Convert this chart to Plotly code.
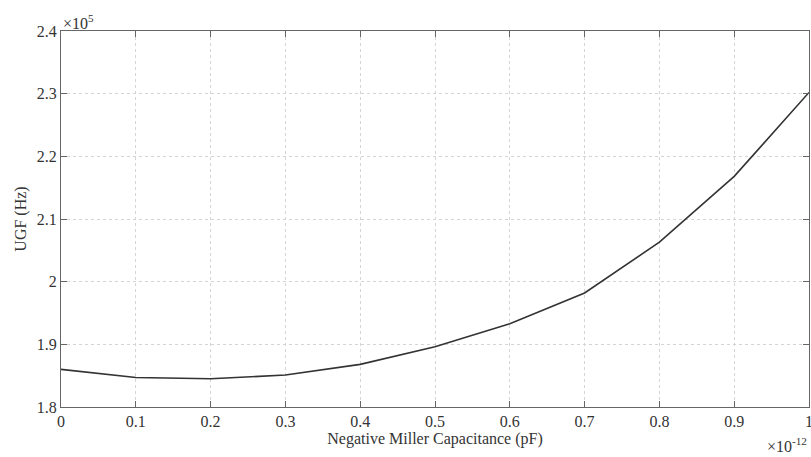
import plotly.graph_objects as go

cap_pf = [0.0, 0.1, 0.2, 0.3, 0.4, 0.5, 0.6, 0.7, 0.8, 0.9, 1.0]
ugf_hz = [1.860e5, 1.847e5, 1.845e5, 1.851e5, 1.868e5, 1.896e5, 1.933e5, 1.982e5, 2.063e5, 2.168e5, 2.302e5]

x_ticks = [0, 0.1, 0.2, 0.3, 0.4, 0.5, 0.6, 0.7, 0.8, 0.9, 1.0]
x_tick_text = ["0", "0.1", "0.2", "0.3", "0.4", "0.5", "0.6", "0.7", "0.8", "0.9", "1"]
y_ticks = [1.8e5, 1.9e5, 2.0e5, 2.1e5, 2.2e5, 2.3e5, 2.4e5]
y_tick_text = ["1.8", "1.9", "2", "2.1", "2.2", "2.3", "2.4"]

font = dict(family="Liberation Serif, Times New Roman, serif", size=16, color="#333333")

fig = go.Figure()
fig.add_trace(go.Scatter(
    x=[c * 1e-12 for c in cap_pf], y=ugf_hz, mode="lines",
    line=dict(color="#333333", width=1.6), showlegend=False))

axis_common = dict(
    showline=True, linecolor="#666666", linewidth=1, mirror="ticks",
    ticks="inside", ticklen=6, tickcolor="#666666",
    showgrid=True, gridcolor="#d4d4d4", griddash="dot", gridwidth=1,
    zeroline=False, tickfont=font, ticklabeloverflow="allow", automargin=False,
)

fig.update_xaxes(
    range=[0, 1e-12], tickvals=[v * 1e-12 for v in x_ticks], ticktext=x_tick_text,
    title=dict(text="Negative Miller Capacitance (pF)", font=font, standoff=2),
    **axis_common)
fig.update_yaxes(
    range=[1.8e5, 2.4e5], tickvals=y_ticks, ticktext=y_tick_text,
    title=dict(text="UGF (Hz)", font=font, standoff=6),
    **axis_common)

fig.add_annotation(text="×10<sup>5</sup>", xref="paper", yref="paper", x=0, y=1,
                   xanchor="left", yanchor="bottom", showarrow=False, font=font, yshift=-3)
fig.add_annotation(text="×10<sup>-12</sup>", xref="paper", yref="paper", x=1, y=0,
                   xanchor="right", yanchor="top", showarrow=False, font=font, yshift=-26)

fig.update_layout(
    width=811, height=457, margin=dict(l=61, r=2, t=31, b=50),
    paper_bgcolor="white", plot_bgcolor="white", font=font,
)

fig.write_html("out.html")
